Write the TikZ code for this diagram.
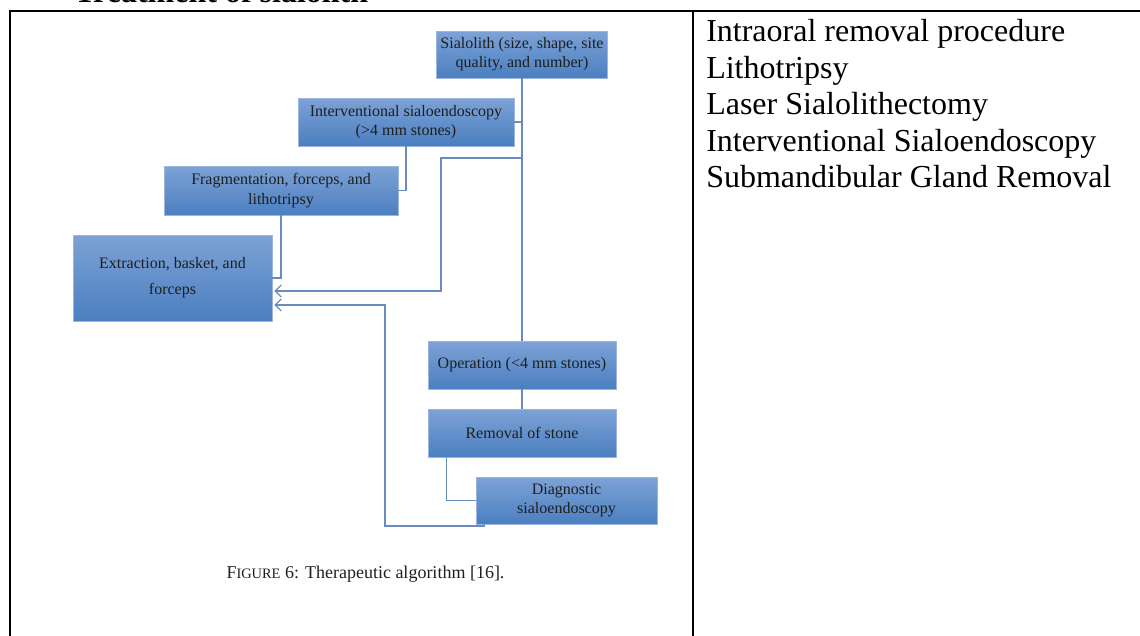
\documentclass[tikz,border=0pt]{standalone}
\usepackage{fontspec}
\setmainfont{Liberation Serif}
\usepackage{xcolor}
\definecolor{cBoxTop}{HTML}{7DA2D6}
\definecolor{cBoxBot}{HTML}{4B7FC0}
\definecolor{cBoxLine}{HTML}{9BB5DD}
\definecolor{cLink}{HTML}{6A8BBE}
\definecolor{cInk}{HTML}{1E1E1E}
\usetikzlibrary{positioning,arrows.meta}
\tikzset{
  node-box/.style={draw=cBoxLine,line width=0.6pt,top color=cBoxTop,bottom color=cBoxBot,
    text=cInk,align=center,inner sep=0pt,font=\fontsize{12}{14.5}\selectfont},
  link/.style={draw=cLink,line width=0.9pt},
  link-arrow/.style={link,-{Straight Barb[length=1.6mm,width=3.2mm,line width=0.9pt]}},
  frame/.style={draw=black,line width=1.5pt},
  cell-text/.style={anchor=base west,inner sep=0pt,font=\fontsize{24}{27.4}\selectfont},
}
\begin{document}
\begin{tikzpicture}[x=0.75pt,y=-0.75pt]
  \useasboundingbox (0,0) rectangle (1140,636);
  % table frame and heading
  \node[anchor=base west,inner sep=0pt,font=\bfseries\fontsize{24}{28}\selectfont] (title) at (74,2.3) {Treatment of sialolith};
  \draw[frame] (10,636) -- (10,11) -- (1140,11);
  \draw[frame] (693,11) -- (693,636);

  % algorithm boxes
  \node[node-box,minimum width=128.25pt,minimum height=35.25pt] (sial) at (522,54.5) {Sialolith (size, shape, site\\quality, and number)};
  \node[node-box,minimum width=162pt,minimum height=36pt] (interv) at (406,122) {Interventional sialoendoscopy\\(>4 mm stones)};
  \node[node-box,minimum width=175.5pt,minimum height=36.75pt] (frag) at (281,190.5) {Fragmentation, forceps, and\\lithotripsy};
  \node[node-box,minimum width=149.25pt,minimum height=64.5pt,font=\fontsize{12}{19.5}\selectfont] (extr) at (172.5,278) {Extraction, basket, and\\forceps};
  \node[node-box,minimum width=141pt,minimum height=36pt] (oper) at (522,365) {Operation (<4 mm stones)};
  \node[node-box,minimum width=141pt,minimum height=36pt] (remov) at (522,433) {Removal of stone};
  \node[node-box,minimum width=135.75pt,minimum height=35.25pt] (diag) at (566.5,500.5) {Diagnostic\\sialoendoscopy};
  \coordinate (knee1) at (441,158);
  \coordinate (knee2) at (385,526);

  % connectors
  \draw[link] (sial.south) -- (oper.north);
  \draw[link] (interv.east) -- (interv.east -| sial.south);
  \draw[link] (interv.south) |- (frag.east);
  \draw[link] (frag.south) |- (extr.east);
  \draw[link-arrow] (knee1 -| sial.south) -- (knee1) |- ([shift={(1.5pt,-9.75pt)}]extr.east);
  \draw[link] (oper.south) -- (remov.north);
  \draw[link] ([xshift=14.25pt]remov.south west) |- (diag.west);
  \draw[link-arrow] ([xshift=6.75pt]diag.south west) |- (knee2) |- ([shift={(1.5pt,-20.25pt)}]extr.east);

  \node[anchor=base,inner sep=0pt,text=cInk,font=\fontsize{13.5}{16}\selectfont] (caption) at (365.5,578) {F{\fontsize{10.8}{13}\selectfont IGURE} 6: Therapeutic algorithm [16].};

  % right cell
  \foreach \txt [count=\i] in {Intraoral removal procedure,Lithotripsy,Laser Sialolithectomy,Interventional Sialoendoscopy,Submandibular Gland Removal}
    \node[cell-text] (item\i) at (706,{41.7+36.5*(\i-1)}) {\txt};
\end{tikzpicture}
\end{document}
